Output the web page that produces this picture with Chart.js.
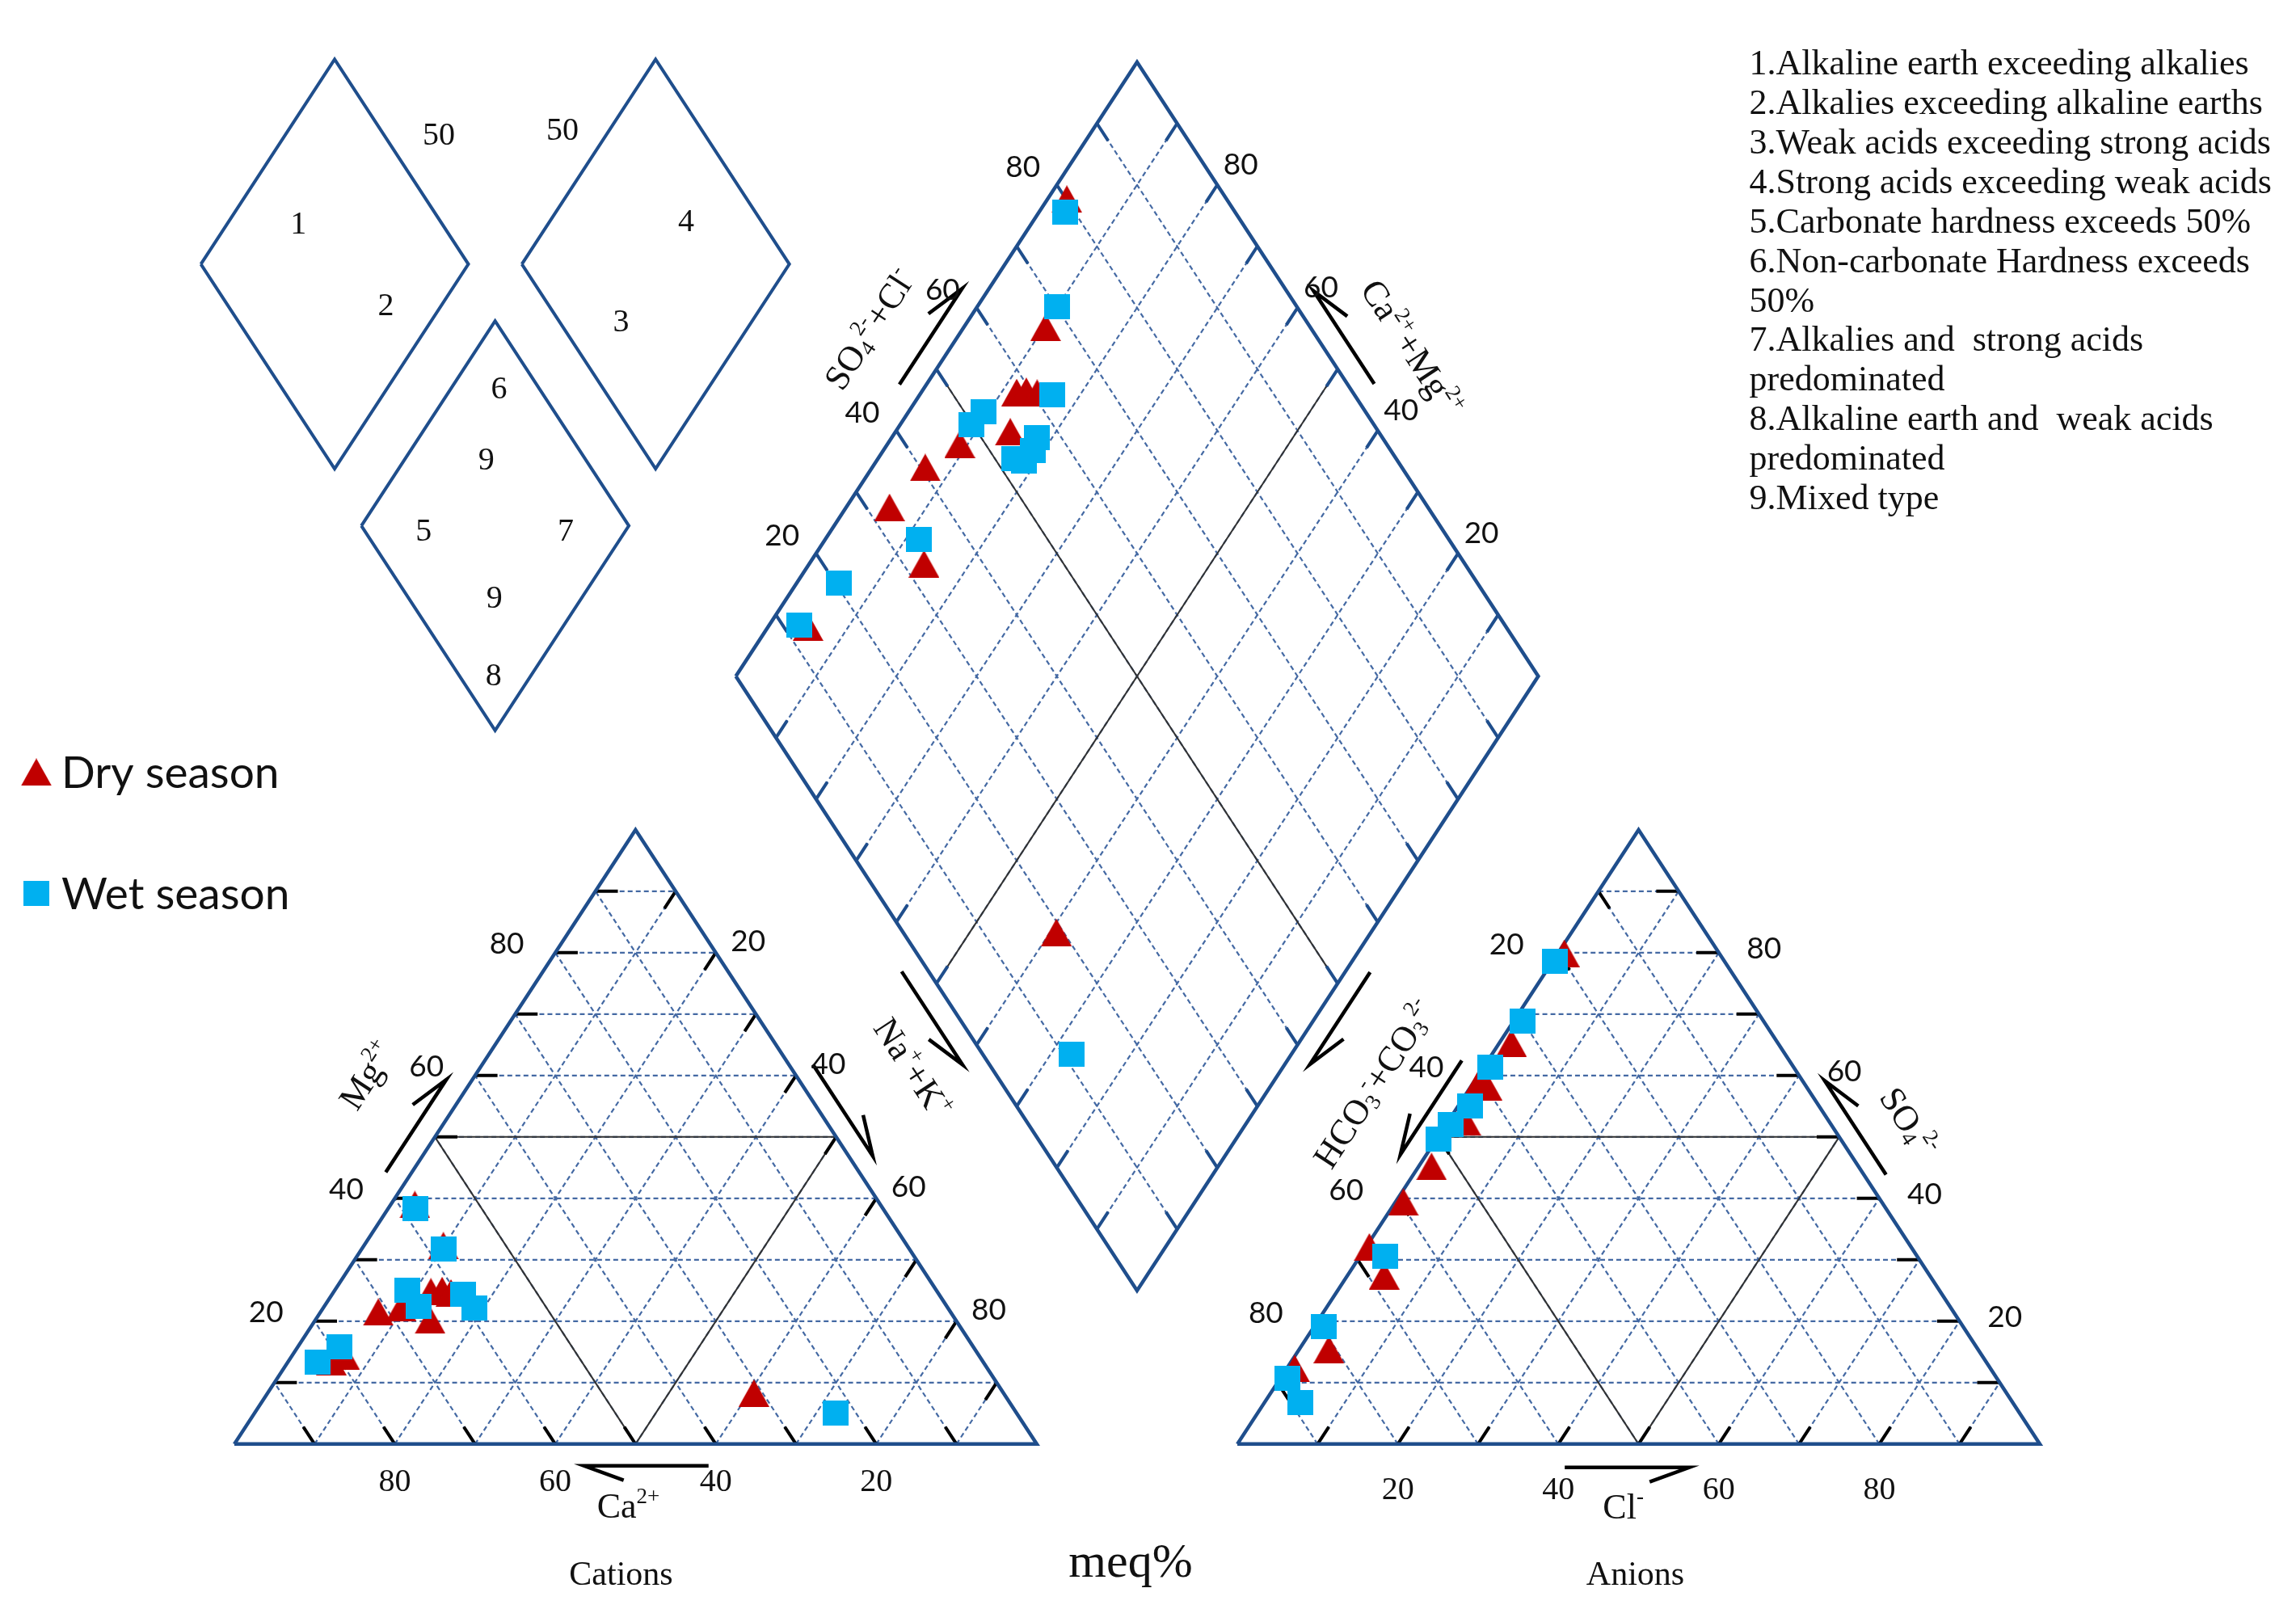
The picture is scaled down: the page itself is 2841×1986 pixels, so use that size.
<!DOCTYPE html>
<html>
<head>
<meta charset="utf-8">
<title>Piper diagram - dry and wet season</title>
<script src="https://cdn.jsdelivr.net/npm/chart.js@4.4.1/dist/chart.umd.min.js"></script>
<style>
  html, body { margin: 0; padding: 0; background: #fff; }
  #wrap { position: relative; width: 2841px; height: 1986px; }
</style>
</head>
<body>
<div id="wrap"><canvas id="piperChart"></canvas></div>
<script>
/* =========================
   DATA (meq %)
========================= */

// cation triangle: Mg2+ and Na+ + K+ (Ca2+ is the rest)
const dryCatMg  = [39.0, 32.3, 21.5, 22.2, 24.8, 25.0, 24.6, 20.2, 13.4, 14.3, 8.3];
const dryCatNaK = [ 3.0,  9.9,  7.2,  9.7, 12.1, 13.4, 14.7, 14.3,  5.4,  6.6, 60.6];
const wetCatMg  = [38.3, 31.7, 25.0, 22.4, 24.4, 22.2, 13.4, 15.8,  5.0];
const wetCatNaK = [ 3.4, 10.2,  9.1, 11.8, 16.3, 18.8,  3.7,  5.2, 72.4];

// anion triangle: SO4 2- and Cl- (HCO3- + CO3 2- is the rest)
const dryAnSO4 = [79.9, 65.3, 58.8, 58.2, 52.5, 45.2, 39.4, 32.1, 27.4, 15.4, 12.3];
const dryAnCl  = [ 0.8,  1.5,  0.7,  2.0,  2.2,  1.6,  1.0,  0.4,  4.6,  3.7,  1.0];
const wetAnSO4 = [78.6, 68.8, 61.4, 55.1, 52.0, 49.6, 30.6, 19.1, 10.7,  6.8];
const wetAnCl  = [ 0.3,  1.1,  0.8,  1.4,  0.6,  0.3,  3.1,  1.2,  0.9,  4.5];

// diamond: Na+ + K+ and SO4 2- + Cl-
const dryDiaNaK = [ 2.4, 10.2, 11.9, 13.0, 14.5,  9.0, 14.3,  6.6,  5.4, 14.3,  5.0, 60.8];
const dryDiaSCl = [80.1, 67.0, 58.1, 59.4, 60.6, 46.8, 54.1, 40.6, 32.9, 32.6, 13.0, 19.1];
const wetDiaNaK = [ 3.2,  9.9, 16.5,  9.3,  8.9, 18.1, 18.7, 17.0, 18.4, 11.7,  5.2,  3.8, 72.6];
const wetDiaSCl = [78.8, 70.1, 62.3, 52.4, 49.8, 57.0, 55.4, 52.4, 53.4, 34.0, 20.4, 12.1, 11.1];

// grid levels and labelled ticks
const gridLevels = [10, 20, 30, 40, 50, 60, 70, 80, 90];
const tickLabels = [20, 40, 60, 80];

const keyNotes = [
  '1.Alkaline earth exceeding alkalies',
  '2.Alkalies exceeding alkaline earths',
  '3.Weak acids exceeding strong acids',
  '4.Strong acids exceeding weak acids',
  '5.Carbonate hardness exceeds 50%',
  '6.Non-carbonate Hardness exceeds',
  '50%',
  '7.Alkalies and  strong acids',
  'predominated',
  '8.Alkaline earth and  weak acids',
  'predominated',
  '9.Mixed type'
];

/* =========================
   GEOMETRY (chart units)
========================= */

const TICK = 2.8;                       // tick length, in percent
const AN_X0 = 125;                      // left corner of the anion triangle
const DIA_C = { x: 112.5, y: 125 };     // centre of the diamond

function catXY(mg, nak) { return { x: nak + mg / 2, y: mg }; }
function anXY(so4, cl)  { return { x: AN_X0 + cl + so4 / 2, y: so4 }; }
function diaXY(nak, scl) { return { x: 62.5 + (nak + scl) / 2, y: 125 + scl - nak }; }

function gap() { return { x: null, y: null }; }
function addSeg(list, a, b) { list.push(a, b, gap()); }
function addPoly(list, pts) { pts.forEach(p => list.push(p)); list.push(pts[0], gap()); }

const gridPts = [], triTickPts = [], diaTickPts = [], outlinePts = [], midPts = [], keyPts = [];

gridLevels.forEach(v => {
  // cation triangle
  addSeg(gridPts, catXY(v, 0), catXY(v, 100 - v));
  addSeg(gridPts, catXY(0, v), catXY(100 - v, v));
  addSeg(gridPts, catXY(0, 100 - v), catXY(100 - v, 0));
  // anion triangle
  addSeg(gridPts, anXY(v, 0), anXY(v, 100 - v));
  addSeg(gridPts, anXY(0, v), anXY(100 - v, v));
  addSeg(gridPts, anXY(0, 100 - v), anXY(100 - v, 0));
  // diamond
  addSeg(gridPts, diaXY(0, v), diaXY(100, v));
  addSeg(gridPts, diaXY(v, 0), diaXY(v, 100));

  // black ticks on the triangles
  addSeg(triTickPts, catXY(v, 0), catXY(v, TICK));
  addSeg(triTickPts, catXY(100 - v, v), catXY(100 - v - TICK, v));
  addSeg(triTickPts, catXY(0, 100 - v), catXY(TICK, 100 - v - TICK));
  addSeg(triTickPts, anXY(v, 100 - v), anXY(v, 100 - v - TICK));
  addSeg(triTickPts, anXY(100 - v, 0), anXY(100 - v - TICK, TICK));
  addSeg(triTickPts, anXY(0, v), anXY(TICK, v));

  // blue ticks on the diamond
  addSeg(diaTickPts, diaXY(0, v), diaXY(TICK, v));
  addSeg(diaTickPts, diaXY(v, 100), diaXY(v, 100 - TICK));
  addSeg(diaTickPts, diaXY(v, 0), diaXY(v, TICK));
  addSeg(diaTickPts, diaXY(100, v), diaXY(100 - TICK, v));
});

const diamondCorners = [diaXY(0, 0), diaXY(100, 0), diaXY(100, 100), diaXY(0, 100)];
addPoly(outlinePts, [catXY(0, 0), catXY(0, 100), catXY(100, 0)]);
addPoly(outlinePts, [anXY(0, 0), anXY(0, 100), anXY(100, 0)]);
addPoly(outlinePts, diamondCorners);

// 50 % division lines
addSeg(midPts, catXY(50, 0), catXY(50, 50));
addSeg(midPts, catXY(50, 0), catXY(0, 50));
addSeg(midPts, catXY(50, 50), catXY(0, 50));
addSeg(midPts, anXY(50, 0), anXY(50, 50));
addSeg(midPts, anXY(50, 0), anXY(0, 50));
addSeg(midPts, anXY(50, 50), anXY(0, 50));
addSeg(midPts, diaXY(0, 50), diaXY(100, 50));
addSeg(midPts, diaXY(50, 0), diaXY(50, 100));

// small key diamonds (1/3 scale copies of the big one)
const keyCentres = [{ x: 12.5, y: 192.1 }, { x: 52.5, y: 192.1 }, { x: 32.5, y: 149.5 }];
keyCentres.forEach(c => {
  addPoly(keyPts, diamondCorners.map(p => ({ x: c.x + (p.x - DIA_C.x) / 3, y: c.y + (p.y - DIA_C.y) / 3 })));
});

// samples
const dryPts = [
  ...dryCatMg.map((m, i) => catXY(m, dryCatNaK[i])),
  ...dryAnSO4.map((s, i) => anXY(s, dryAnCl[i])),
  ...dryDiaNaK.map((n, i) => diaXY(n, dryDiaSCl[i]))
];
const wetPts = [
  ...wetCatMg.map((m, i) => catXY(m, wetCatNaK[i])),
  ...wetAnSO4.map((s, i) => anXY(s, wetAnCl[i])),
  ...wetDiaNaK.map((n, i) => diaXY(n, wetDiaSCl[i]))
];

/* =========================
   STYLE / LAYOUT
========================= */

const BLUE_LINE = '#1F4E8C';
const GRID_BLUE = '#4469A3';
const DRY_RED = '#C00000';
const WET_BLUE = '#00B0F0';
const SANS = 'Lato, "DejaVu Sans", sans-serif';
const SERIF = '"Liberation Serif", "Times New Roman", serif';

function markerCanvas(kind) {
  const c = document.createElement('canvas');
  const g = c.getContext('2d');
  if (kind === 'tri') {
    c.width = 38; c.height = 34;
    g.fillStyle = DRY_RED;
    g.beginPath(); g.moveTo(19, 0); g.lineTo(38, 34); g.lineTo(0, 34); g.closePath(); g.fill();
  } else {
    c.width = 32; c.height = 31;
    g.fillStyle = WET_BLUE;
    g.fillRect(0, 0, 32, 31);
  }
  return c;
}
const triImg = markerCanvas('tri');
const sqImg = markerCanvas('sq');

const edges = {
  catLeft:  [catXY(0, 0), catXY(100, 0)],
  catRight: [catXY(100, 0), catXY(0, 100)],
  catBase:  [catXY(0, 0), catXY(0, 100)],
  anLeft:   [anXY(0, 0), anXY(100, 0)],
  anRight:  [anXY(100, 0), anXY(0, 100)],
  anBase:   [anXY(0, 0), anXY(0, 100)],
  diaUL:    [diaXY(0, 0), diaXY(0, 100)],
  diaUR:    [diaXY(0, 100), diaXY(100, 100)],
  diaLL:    [diaXY(0, 0), diaXY(100, 0)],
  diaLR:    [diaXY(100, 0), diaXY(100, 100)]
};

// edge, from t, to t, offset (px, along edge normal), barb side
const arrows = [
  ['catLeft', 0.423, 0.574, 27, 1],
  ['catRight', 0.40, 0.549, 25, 1],
  ['diaLL', 0.4605, 0.612, -28, -1],
  ['catBase', 0.591, 0.436, -27, 1],
  ['diaUL', 0.455, 0.611, 28, 1],
  ['diaUR', 0.544, 0.393, 28, -1],
  ['diaLR', 0.537, 0.387, -26, 1],
  ['anLeft', 0.605, 0.452, 27, -1],
  ['anBase', 0.408, 0.563, -29, -1],
  ['anRight', 0.578, 0.425, 23, -1]
];

// tick number sets: position on the edge for value v, pixel offset, font
const edgeLabelSets = [
  { pt: v => catXY(v, 0),         dx: -60, dy: -11, font: '37px ' + SANS },
  { pt: v => catXY(100 - v, v),   dx: 40,  dy: -14, font: '37px ' + SANS },
  { pt: v => catXY(0, 100 - v),   dx: 0,   dy: 48,  font: '40px ' + SERIF },
  { pt: v => anXY(100 - v, 0),    dx: -64, dy: -10, font: '37px ' + SANS },
  { pt: v => anXY(v, 100 - v),    dx: 56,  dy: -5,  font: '37px ' + SANS },
  { pt: v => anXY(0, v),          dx: 0,   dy: 58,  font: '40px ' + SERIF },
  { pt: v => diaXY(0, v),         dx: -42, dy: -22, font: '37px ' + SANS },
  { pt: v => diaXY(100 - v, 100), dx: 29,  dy: -25, font: '37px ' + SANS }
];

// rich text axis titles: [text, 0 normal | 1 superscript | -1 subscript]
const axisTitles = [
  { parts: [['Mg', 0], ['2+', 1]], x: 16.8, y: 59.8, rot: -1 },
  { parts: [['Na', 0], ['+', 1], ['+K', 0], ['+', 1]], x: 84.3, y: 61.0, rot: 1 },
  { parts: [['Ca', 0], ['2+', 1]], x: 49.1, y: -10.5, rot: 0 },
  { parts: [['Cl', 0], ['-', 1]], x: 173.1, y: -10.6, rot: 0 },
  { parts: [['SO', 0], ['4', -1], ['2-', 1], ['+Cl', 0], ['-', 1]], x: 79.4, y: 181.3, rot: -1 },
  { parts: [['Ca', 0], ['2+', 1], ['+Mg', 0], ['2+', 1]], x: 146.5, y: 178.2, rot: 1 },
  { parts: [['HCO', 0], ['3', -1], ['-', 1], ['+CO', 0], ['3', -1], ['2-', 1]], x: 142.3, y: 58.4, rot: -1 },
  { parts: [['SO', 0], ['4', -1], ['2-', 1]], x: 208.4, y: 52.2, rot: 1 }
];

const plainTitles = [
  { text: 'meq%', x: 111.7, y: -19.5, font: '60px ' + SERIF },
  { text: 'Cations', x: 48.2, y: -21.4, font: '42px ' + SERIF },
  { text: 'Anions', x: 174.6, y: -21.4, font: '42px ' + SERIF }
];

const keyLabels = [
  ['50', 25.5, 212.9], ['50', 40.9, 213.7], ['1', 8.0, 198.4], ['2', 18.9, 185.2],
  ['4', 56.3, 198.9], ['3', 48.2, 182.5], ['6', 33.0, 171.6], ['9', 31.4, 160.0],
  ['5', 23.6, 148.4], ['7', 41.3, 148.4], ['9', 32.4, 137.6], ['8', 32.3, 124.9]
];

const seasonLegend = [
  { text: 'Dry season', img: triImg, x: -24.67, y: 109.4 },
  { text: 'Wet season', img: sqImg, x: -24.67, y: 89.7 }
];

const notesPos = { x: 188.8, y: 224.5, step: 48.9 };

/* =========================
   DRAWING HELPERS
========================= */

function drawRich(ctx, parts, x, y, size, angle) {
  ctx.save();
  ctx.translate(x, y);
  ctx.rotate(angle);
  ctx.textBaseline = 'middle';
  ctx.textAlign = 'left';
  const fontFor = k => (k === 0 ? size : Math.round(size * 0.62)) + 'px ' + SERIF;
  let w = 0;
  parts.forEach(p => { ctx.font = fontFor(p[1]); w += ctx.measureText(p[0]).width; });
  let cx = -w / 2;
  parts.forEach(p => {
    ctx.font = fontFor(p[1]);
    const shift = p[1] === 1 ? -size * 0.32 : (p[1] === -1 ? size * 0.22 : 0);
    ctx.fillText(p[0], cx, shift);
    cx += ctx.measureText(p[0]).width;
  });
  ctx.restore();
}

function drawHarpoon(ctx, a, b, side) {
  const len = Math.hypot(b.x - a.x, b.y - a.y);
  const rx = (a.x - b.x) / len, ry = (a.y - b.y) / len;
  const ang = side * 20 * Math.PI / 180;
  const bx = rx * Math.cos(ang) - ry * Math.sin(ang);
  const by = rx * Math.sin(ang) + ry * Math.cos(ang);
  ctx.beginPath();
  ctx.moveTo(a.x, a.y);
  ctx.lineTo(b.x, b.y);
  ctx.lineTo(b.x + bx * 52, b.y + by * 52);
  ctx.stroke();
}

const piperDecor = {
  id: 'piperDecor',
  afterDatasetsDraw(chart) {
    const ctx = chart.ctx;
    const xs = chart.scales.x, ys = chart.scales.y;
    const P = p => ({ x: xs.getPixelForValue(p.x), y: ys.getPixelForValue(p.y) });
    const slope = Math.atan2(ys.getPixelForValue(0) - ys.getPixelForValue(100),
                             xs.getPixelForValue(50) - xs.getPixelForValue(0));

    ctx.save();

    // arrows
    ctx.strokeStyle = '#000';
    ctx.lineWidth = 4.5;
    ctx.lineCap = 'butt';
    arrows.forEach(([name, t0, t1, off, side]) => {
      const e0 = P(edges[name][0]), e1 = P(edges[name][1]);
      const len = Math.hypot(e1.x - e0.x, e1.y - e0.y);
      const nx = (e1.y - e0.y) / len, ny = -(e1.x - e0.x) / len;
      const at = t => ({ x: e0.x + (e1.x - e0.x) * t + nx * off, y: e0.y + (e1.y - e0.y) * t + ny * off });
      drawHarpoon(ctx, at(t0), at(t1), side);
    });

    // tick numbers
    ctx.fillStyle = '#111';
    ctx.textAlign = 'center';
    ctx.textBaseline = 'middle';
    edgeLabelSets.forEach(set => {
      ctx.font = set.font;
      tickLabels.forEach(v => {
        const p = P(set.pt(v));
        ctx.fillText(String(v), p.x + set.dx, p.y + set.dy);
      });
    });

    // axis titles
    axisTitles.forEach(t => {
      const p = P(t);
      drawRich(ctx, t.parts, p.x, p.y, 44, t.rot * slope);
    });
    plainTitles.forEach(t => {
      const p = P(t);
      ctx.font = t.font;
      ctx.textAlign = 'center';
      ctx.fillText(t.text, p.x, p.y);
    });

    // key diamond numbers
    ctx.font = '40px ' + SERIF;
    keyLabels.forEach(([txt, x, y]) => {
      const p = P({ x, y });
      ctx.fillText(txt, p.x, p.y);
    });

    // season legend
    ctx.textAlign = 'left';
    ctx.font = '55px ' + SANS;
    seasonLegend.forEach(item => {
      const p = P(item);
      ctx.drawImage(item.img, p.x - item.img.width / 2, p.y - item.img.height / 2);
      ctx.fillText(item.text, p.x + 31, p.y + 2);
    });

    // classification notes
    ctx.font = '44px ' + SERIF;
    const n0 = P(notesPos);
    keyNotes.forEach((line, i) => {
      ctx.fillText(line, n0.x, n0.y + i * notesPos.step);
    });

    ctx.restore();
  }
};

/* =========================
   CHART
========================= */

function lineSet(data, color, width, dash, order) {
  return {
    data,
    showLine: true,
    spanGaps: false,
    borderColor: color,
    borderWidth: width,
    borderDash: dash,
    pointRadius: 0,
    pointHoverRadius: 0,
    fill: false,
    order
  };
}

document.addEventListener('DOMContentLoaded', function () {
  const ctx = document.getElementById('piperChart').getContext('2d');

  new Chart(ctx, {
    type: 'scatter',
    data: {
      datasets: [
        {
          label: 'Wet season',
          data: wetPts,
          pointStyle: sqImg,
          pointRadius: 16,
          order: 0
        },
        {
          label: 'Dry season',
          data: dryPts,
          pointStyle: triImg,
          pointRadius: 16,
          order: 1
        },
        lineSet(outlinePts, BLUE_LINE, 4.5, [], 2),
        lineSet(keyPts, BLUE_LINE, 4, [], 2),
        lineSet(diaTickPts, BLUE_LINE, 4, [], 3),
        lineSet(triTickPts, '#000', 4, [], 3),
        lineSet(midPts, '#333', 2, [], 4),
        lineSet(gridPts, GRID_BLUE, 2.2, [6, 4], 5)
      ]
    },
    options: {
      responsive: true,
      maintainAspectRatio: false,
      animation: false,
      events: [],
      layout: { autoPadding: false, padding: 0 },
      plugins: {
        legend: { display: false },
        tooltip: { enabled: false }
      },
      scales: {
        x: { type: 'linear', display: false, min: -29.2, max: 256.93 },
        y: { type: 'linear', display: false, min: -26.2, max: 235.1 }
      }
    },
    plugins: [piperDecor]
  });
});
</script>
</body>
</html>
